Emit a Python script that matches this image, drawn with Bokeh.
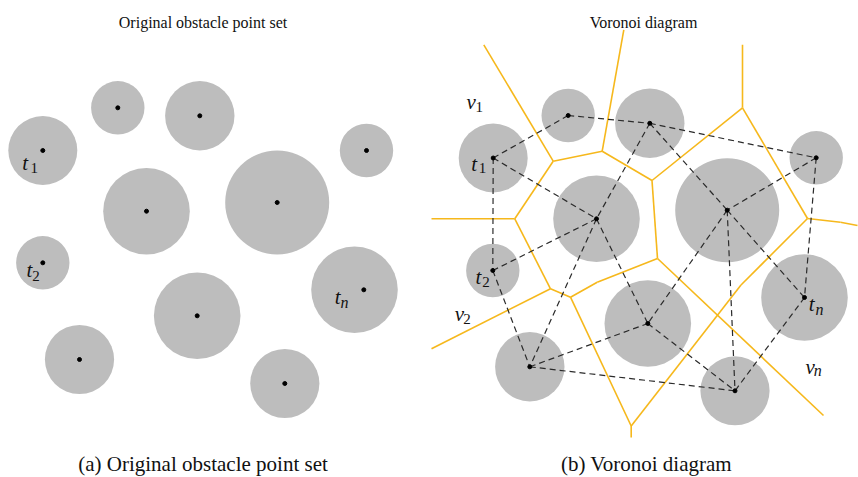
from bokeh.plotting import figure
from bokeh.models import Range1d
from bokeh.core.properties import value
from bokeh.embed import file_html
from bokeh.resources import INLINE

# ---- panel (a): obstacles (circle centres, radii) and obstacle points ----
a_cx = [42.3, 117.3, 199.3, 366.0, 146.0, 276.7, 42.3, 354.0, 196.7, 79.0, 284.3]
a_cy = [150.0, 107.3, 115.3, 150.0, 210.7, 202.0, 262.3, 289.3, 315.3, 359.0, 383.0]
a_r = [34.5, 26.7, 34.7, 26.7, 43.3, 52.0, 26.7, 43.3, 43.3, 34.6, 34.6]
a_px = [42.3, 117.3, 199.3, 366.0, 146.0, 276.7, 42.3, 363.3, 196.7, 79.0, 284.3]
a_py = [150.0, 107.3, 115.3, 150.0, 210.7, 202.0, 262.3, 289.3, 315.3, 359.0, 383.0]

# ---- panel (b): obstacles ----
b_cx = [492.7, 567.7, 649.3, 815.7, 596.0, 726.7, 492.3, 804.0, 647.3, 529.3, 734.5]
b_cy = [157.5, 115.0, 122.8, 157.3, 218.3, 209.7, 270.0, 297.0, 323.0, 366.3, 390.3]
b_r = [34.5, 26.7, 34.7, 26.7, 43.3, 52.0, 26.7, 43.3, 43.3, 34.7, 34.6]
# dashed (Delaunay) connections between obstacle points (indices into b_cx)
del_a = [0, 1, 2, 0, 0, 2, 2, 3, 3, 4, 4, 4, 5, 5, 5, 6, 9, 9, 8, 7]
del_b = [1, 2, 3, 4, 6, 4, 5, 5, 7, 6, 9, 8, 8, 10, 7, 9, 8, 10, 10, 10]

# Voronoi vertices (incl. boundary ends) and edges
vor_x = [552.7, 601.7, 651.5, 742.0, 807.0, 514.3, 550.0, 570.0, 657.0, 740.5, 630.7,
         596.7, 840.0, 483.3, 623.3, 742.0, 857.0, 431.0, 431.0, 823.0, 630.7]
vor_y = [160.7, 150.7, 180.0, 107.3, 218.0, 218.3, 288.3, 296.7, 258.0, 284.5, 425.5,
         281.7, 221.7, 44.3, 29.3, 44.3, 225.0, 218.3, 348.3, 415.0, 437.0]
vor_a = [0, 0, 1, 2, 2, 3, 4, 9, 5, 6, 7, 11, 7, 0, 1, 3, 4, 12, 5, 6, 8, 10]
vor_b = [1, 5, 2, 3, 8, 4, 9, 10, 6, 7, 11, 8, 10, 13, 14, 15, 12, 16, 17, 18, 19, 20]

# ---- texts ----
titles = ["Original obstacle point set", "Voronoi diagram"]
title_x = [202.5, 643.0]
captions = ["(a) Original obstacle point set", "(b) Voronoi diagram"]
caption_x = [202.5, 646.0]

lab_main = ["t", "t", "t", "v", "t", "t", "v", "t", "v"]
lab_x = [21.7, 26.0, 334.3, 466.0, 470.7, 475.0, 454.3, 808.3, 805.0]
lab_y = [162.3, 269.5, 296.7, 101.7, 163.3, 276.7, 313.3, 303.3, 366.7]
sub_num = ["1", "2", "1", "1", "2", "2"]
sub_num_x = [30.0, 31.7, 475.0, 478.3, 481.7, 462.7]
sub_num_y = [167.7, 275.0, 106.0, 167.0, 281.7, 318.3]
sub_n = ["n", "n", "n"]
sub_n_x = [340.0, 815.0, 813.3]
sub_n_y = [301.7, 309.3, 370.0]

W, H = 858, 477
p = figure(width=W, height=H, x_range=Range1d(0, W), y_range=Range1d(H, 0),
           output_backend="svg", toolbar_location=None, min_border=0,
           x_axis_location=None, y_axis_location=None)
p.grid.visible = False
p.outline_line_color = None
p.background_fill_color = "white"

GRAY = "#BDBDBD"
YEL = "#F6B81C"

p.circle(a_cx, a_cy, radius=a_r, fill_color=GRAY, line_color=None)
p.circle(b_cx, b_cy, radius=b_r, fill_color=GRAY, line_color=None)

p.multi_line([[vor_x[i], vor_x[j]] for i, j in zip(vor_a, vor_b)],
             [[vor_y[i], vor_y[j]] for i, j in zip(vor_a, vor_b)],
             line_color=YEL, line_width=1.6)

p.multi_line([[b_cx[i], b_cx[j]] for i, j in zip(del_a, del_b)],
             [[b_cy[i], b_cy[j]] for i, j in zip(del_a, del_b)],
             line_color="#2b2b2b", line_width=1.2, line_dash="6 4")

p.scatter(a_px, a_py, size=4, color="black")
p.scatter(b_cx, b_cy, size=4, color="black")

SERIF = value("Liberation Serif")
p.text(title_x, [21.5, 21.5], titles, text_font=SERIF, text_font_size="16px",
       text_align="center", text_baseline="alphabetic", text_color="#111111")
p.text(caption_x, [463.0, 463.0], captions, text_font=SERIF, text_font_size="21px",
       text_align="center", text_baseline="alphabetic", text_color="#111111")

p.text(lab_x, lab_y, lab_main, text_font=SERIF, text_font_size="21px",
       text_font_style="italic", text_align="left", text_baseline="alphabetic",
       text_color="#111111")
p.text(sub_num_x, sub_num_y, sub_num, text_font=SERIF, text_font_size="15px",
       text_align="left", text_baseline="alphabetic", text_color="#111111")
p.text(sub_n_x, sub_n_y, sub_n, text_font=SERIF, text_font_size="16px",
       text_font_style="italic", text_align="left", text_baseline="alphabetic",
       text_color="#111111")

open("out.html", "w").write(file_html(p, INLINE))
